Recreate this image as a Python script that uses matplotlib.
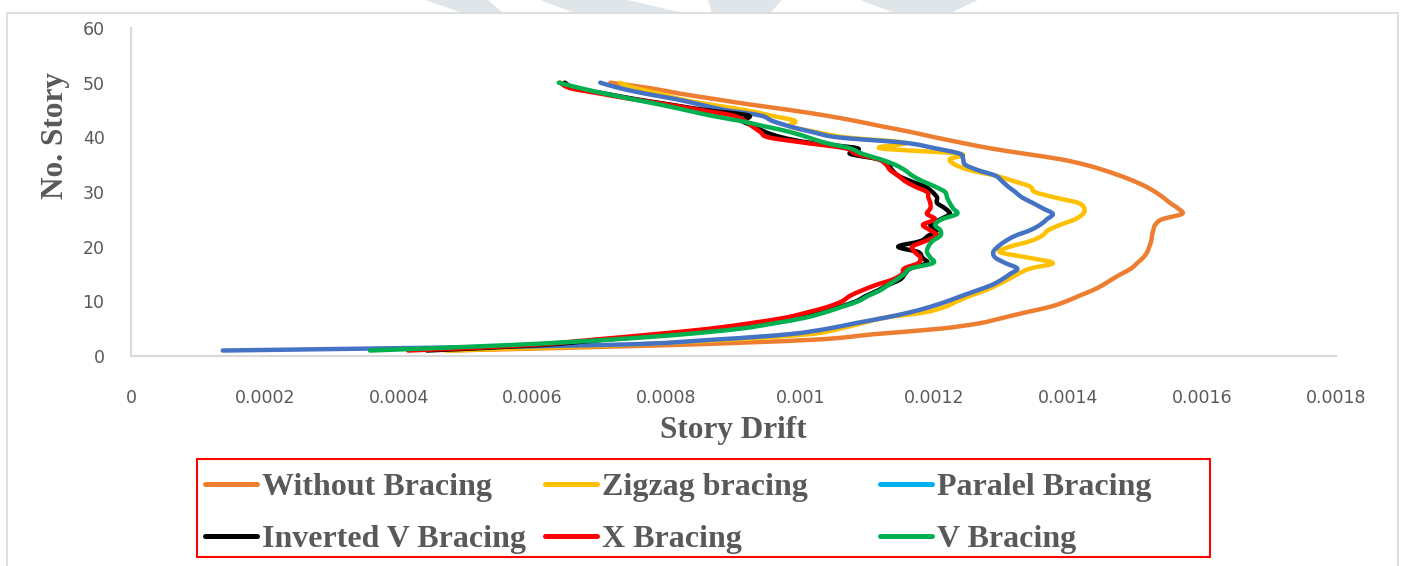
import matplotlib.pyplot as plt
from matplotlib.lines import Line2D
from matplotlib.patches import Rectangle, Polygon, PathPatch
from matplotlib.path import Path

stories = list(range(1, 51))

without_bracing = [0.000474, 0.000805, 0.001022, 0.001111, 0.001209, 0.001268, 0.001303, 0.001337, 0.001373, 0.001397,
                   0.001416, 0.001436, 0.001452, 0.001465, 0.001479, 0.001494, 0.001503, 0.001512, 0.001518, 0.001521,
                   0.001524, 0.001525, 0.001527, 0.00153, 0.00154, 0.00157, 0.001564, 0.001552, 0.001542, 0.00153,
                   0.001516, 0.001498, 0.001477, 0.001453, 0.001425, 0.001388, 0.001335, 0.001283, 0.001241, 0.001201,
                   0.001164, 0.001122, 0.001082, 0.001037, 0.000984, 0.000925, 0.000872, 0.00082, 0.000775, 0.000716]
zigzag = [0.000469, 0.00073, 0.000895, 0.001014, 0.001059, 0.001092, 0.001126, 0.001186, 0.001216, 0.001234,
          0.001253, 0.001276, 0.001294, 0.00131, 0.001325, 0.001343, 0.001377, 0.00134, 0.001298, 0.001313,
          0.001343, 0.001361, 0.00137, 0.001388, 0.00141, 0.001422, 0.001424, 0.001415, 0.00138, 0.00135,
          0.001343, 0.001318, 0.001291, 0.001253, 0.001231, 0.001223, 0.001238, 0.001119, 0.001156, 0.001067,
          0.001022, 0.000984, 0.000992, 0.000955, 0.000917, 0.000865, 0.00082, 0.00079, 0.000753, 0.00073]
paralel = [0.000137, 0.000701, 0.000872, 0.000984, 0.001041, 0.001082, 0.001126, 0.001164, 0.001194, 0.001219,
           0.001241, 0.001264, 0.001286, 0.001301, 0.001313, 0.001324, 0.001306, 0.001291, 0.001288, 0.001295,
           0.001306, 0.001321, 0.001343, 0.001358, 0.001368, 0.001377, 0.001362, 0.001347, 0.001331, 0.001321,
           0.00131, 0.001301, 0.001291, 0.001265, 0.001246, 0.001243, 0.001238, 0.001201, 0.001156, 0.001056,
           0.001017, 0.000984, 0.000958, 0.00094, 0.000887, 0.00085, 0.000813, 0.000768, 0.00073, 0.000701]
inverted_v = [0.000442, 0.000611, 0.000708, 0.000813, 0.000895, 0.000955, 0.000999, 0.001032, 0.001059, 0.001083,
              0.001098, 0.001116, 0.001131, 0.001149, 0.001156, 0.001164, 0.001189, 0.001182, 0.001176, 0.001146,
              0.001179, 0.001191, 0.001204, 0.001194, 0.001209, 0.001223, 0.001216, 0.001204, 0.001204, 0.001197,
              0.001186, 0.001164, 0.001146, 0.001137, 0.001131, 0.001116, 0.001074, 0.001085, 0.001014, 0.000972,
              0.000947, 0.000932, 0.000913, 0.000922, 0.000857, 0.000805, 0.000753, 0.000708, 0.000663, 0.000648]
x_bracing = [0.000414, 0.000596, 0.000693, 0.000783, 0.000865, 0.000925, 0.000977, 0.001011, 0.001041, 0.001062,
             0.001074, 0.001092, 0.001113, 0.001138, 0.001152, 0.001155, 0.001176, 0.001179, 0.001171, 0.001167,
             0.001186, 0.001204, 0.001194, 0.001183, 0.001201, 0.001189, 0.001194, 0.001194, 0.001191, 0.001189,
             0.001171, 0.001156, 0.001146, 0.001134, 0.001128, 0.001116, 0.001082, 0.001067, 0.001007, 0.000952,
             0.00094, 0.000928, 0.000917, 0.000899, 0.00085, 0.000802, 0.000748, 0.000701, 0.000656, 0.000641]
v_bracing = [0.000357, 0.000566, 0.000716, 0.000828, 0.00091, 0.000962, 0.001007, 0.001037, 0.001062, 0.001086,
             0.001101, 0.001119, 0.001131, 0.001144, 0.001155, 0.001164, 0.001198, 0.001194, 0.001189, 0.001191,
             0.001197, 0.001209, 0.001209, 0.001201, 0.001211, 0.001234, 0.001228, 0.001223, 0.001219, 0.001216,
             0.001201, 0.001182, 0.001167, 0.001156, 0.001141, 0.001119, 0.001092, 0.001074, 0.001037, 0.001011,
             0.000984, 0.000947, 0.00091, 0.000865, 0.000828, 0.00079, 0.000748, 0.000708, 0.000671, 0.000639]

series_names = ['Without Bracing', 'Zigzag bracing', 'Paralel Bracing',
                'Inverted V Bracing', 'X Bracing', 'V Bracing']
line_colors = ['#ED7D31', '#FFC000', '#4472C4', '#000000', '#FF0000', '#00B050']
key_colors = ['#ED7D31', '#FFC000', '#00B0F0', '#000000', '#FF0000', '#00B050']

x_ticks = [0, 0.0002, 0.0004, 0.0006, 0.0008, 0.001, 0.0012, 0.0014, 0.0016, 0.0018]
x_tick_labels = ['0', '0.0002', '0.0004', '0.0006', '0.0008', '0.001', '0.0012', '0.0014', '0.0016', '0.0018']
y_ticks = [0, 10, 20, 30, 40, 50, 60]

W, H = 1405, 566
grey = '#595959'
serif = ['Liberation Serif', 'DejaVu Serif']


def fx(px):
    return px / W


def fy(py):
    return 1 - py / H


def smooth_path(xs, ys):
    # Excel-style smoothed line: cubic Bezier through every point
    pts = list(zip(xs, ys))
    verts = [pts[0]]
    codes = [Path.MOVETO]
    n = len(pts)
    for i in range(n - 1):
        p0 = pts[max(i - 1, 0)]
        p1 = pts[i]
        p2 = pts[i + 1]
        p3 = pts[min(i + 2, n - 1)]
        c1 = (p1[0] + (p2[0] - p0[0]) / 6, p1[1] + (p2[1] - p0[1]) / 6)
        c2 = (p2[0] - (p3[0] - p1[0]) / 6, p2[1] - (p3[1] - p1[1]) / 6)
        verts += [c1, c2, p2]
        codes += [Path.CURVE4] * 3
    return Path(verts, codes)


fig = plt.figure(figsize=(W / 100, H / 100), dpi=100)
fig.patch.set_facecolor('white')

# faint logo pieces peeking in at the top edge
logo_pieces = [
    [(425, 0), (488, 0), (503, 13), (463, 13)],
    [(540, 0), (628, 0), (683, 13), (575, 13)],
    [(708, 0), (782, 0), (770, 13), (712, 13)],
    [(860, 0), (978, 0), (950, 13), (895, 13)],
]
for piece in logo_pieces:
    fig.add_artist(Polygon([(fx(a), fy(b)) for a, b in piece], closed=True,
                           transform=fig.transFigure, facecolor='#DFE5E8', edgecolor='none'))

# chart area border
fig.add_artist(Rectangle((fx(7), fy(620)), fx(1398) - fx(7), fy(13) - fy(620),
                         transform=fig.transFigure, fill=False, edgecolor='#D9D9D9', lw=1.2))

ax = fig.add_axes([fx(131), fy(356), fx(1336) - fx(131), fy(28) - fy(356)])
data = [without_bracing, zigzag, paralel, inverted_v, x_bracing, v_bracing]
for values, color in zip(data, line_colors):
    ax.add_patch(PathPatch(smooth_path(values, stories), fill=False, edgecolor=color,
                           lw=3.2, joinstyle='round', capstyle='round'))

ax.set_xlim(0, 0.0018)
ax.set_ylim(0, 60)
ax.set_xticks(x_ticks)
ax.set_xticklabels(x_tick_labels)
ax.set_yticks(y_ticks)
ax.tick_params(length=0, labelsize=12.5, labelcolor=grey)
ax.tick_params(axis='x', pad=24)
ax.tick_params(axis='y', pad=19)
for side in ['top', 'right']:
    ax.spines[side].set_visible(False)
for side in ['left', 'bottom']:
    ax.spines[side].set_color('#D9D9D9')
    ax.spines[side].set_linewidth(1.5)

fig.text(fx(733), fy(438), 'Story Drift', ha='center', va='baseline',
         fontsize=22.5, fontweight='bold', color=grey, family=serif)
fig.text(fx(55), fy(136), 'No. Story', ha='center', va='center', rotation=90,
         fontsize=22.5, fontweight='bold', color=grey, family=serif)

# legend box with three equal columns
fig.add_artist(Rectangle((fx(197), fy(557)), fx(1210) - fx(197), fy(459) - fy(557),
                         transform=fig.transFigure, fill=False, edgecolor='#FF0000', lw=1.5))
col_x = [205, 545, 880]
row_y = [484, 536]
row_base = [495, 547]
for i, (name, color) in enumerate(zip(series_names, key_colors)):
    x0 = col_x[i % 3]
    r = i // 3
    fig.add_artist(Line2D([fx(x0), fx(x0 + 52)], [fy(row_y[r]), fy(row_y[r])],
                          transform=fig.transFigure, color=color, lw=3.6, solid_capstyle='round'))
    fig.text(fx(x0 + 57), fy(row_base[r]), name, ha='left', va='baseline',
             fontsize=23, fontweight='bold', color=grey, family=serif)

fig.savefig('out.png', dpi=100, facecolor='white')
